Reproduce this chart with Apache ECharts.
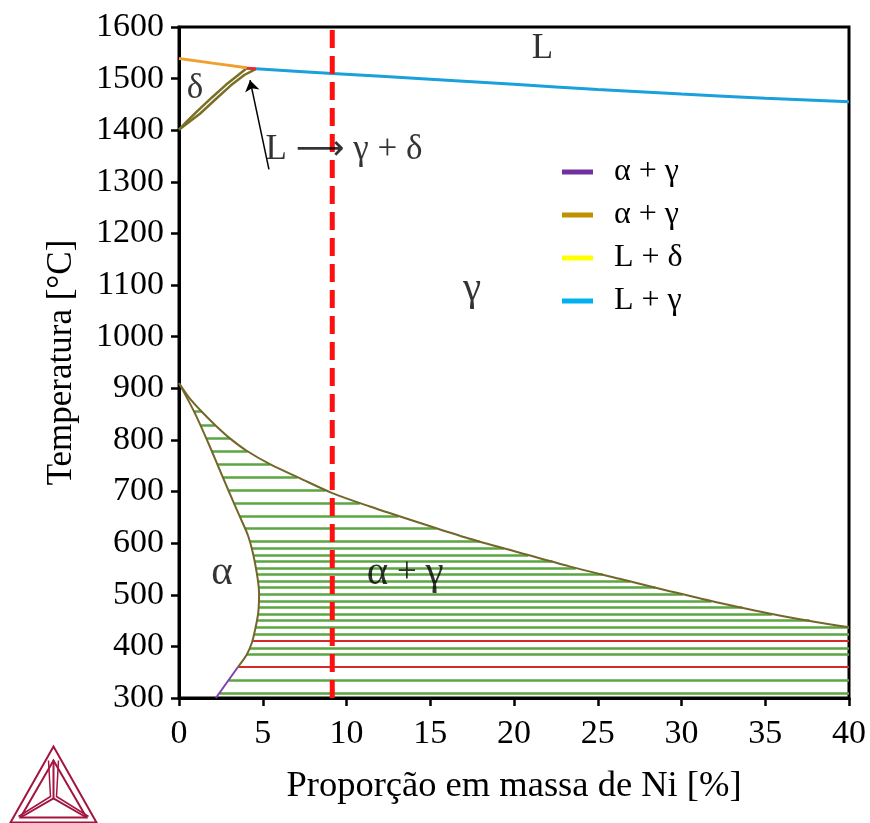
<!DOCTYPE html>
<html>
<head>
<meta charset="utf-8">
<script src="https://cdn.jsdelivr.net/npm/echarts@6/dist/echarts.min.js"></script>
<style>
  html, body { margin: 0; padding: 0; background: #fff; }
  #chart { width: 870px; height: 823px; }
</style>
</head>
<body>
<div id="chart"></div>
<script>
// Fe-Ni diagrama de fases (0-40 % Ni)
var serif = "'Liberation Serif', 'Times New Roman', serif";

// linhas de fase [Ni %, T °C]
var liquidusDelta = [[0, 1539], [2, 1530], [4.04, 1521]];
var peritectic = [[4.04, 1520], [4.6, 1519]];
var liquidusGamma = [[4.6, 1519], [9.15, 1510], [15, 1499], [20, 1489], [25, 1479], [30, 1470], [35, 1462], [40, 1455]];
var deltaBoundary = [[0, 1401], [0.5, 1418], [1.0, 1434], [1.95, 1463], [2.8, 1488], [3.5, 1506], [4.04, 1520]];
var deltaGammaBoundary = [[0, 1401], [0.6, 1416], [1.25, 1432], [2.25, 1462], [3.1, 1487], [3.9, 1507], [4.6, 1519]];
var alphaBoundary = [[0, 910], [0.96, 851], [1.75, 794], [2.35, 748], [2.94, 703], [3.54, 658], [4.14, 613],
  [4.54, 561], [4.78, 503], [4.73, 465], [4.54, 432], [4.34, 406], [4.04, 384], [3.54, 361]];
var alphaLow = [[3.54, 361], [2.2, 300]];
var gammaBoundary = [[0, 910], [0.6, 882], [1.35, 855], [2.15, 829], [3.04, 803], [4.04, 779], [5.43, 753],
  [7.2, 726], [9.15, 697], [11.4, 671], [14.4, 639], [17.3, 609], [20.4, 581], [23.3, 555], [26.3, 531],
  [29.3, 507], [32.3, 484], [36, 459], [40, 437]];

// tie lines (alpha + gamma)
var tieT = [855, 829, 803, 778, 753, 728, 703, 678, 653, 629, 603, 590, 577, 564, 552, 539, 526, 514, 501, 488,
  475, 463, 450, 437, 424, 397, 384, 335, 310];
var tieLeft = [0.89, 1.27, 1.63, 1.96, 2.28, 2.61, 2.94, 3.27, 3.61, 3.93, 4.22, 4.32, 4.42, 4.52, 4.58, 4.63,
  4.68, 4.73, 4.78, 4.76, 4.74, 4.72, 4.64, 4.57, 4.48, 4.22, 4.04, 2.97, 2.42];
var tieRight = [1.35, 2.15, 3.04, 4.09, 5.43, 7.07, 8.74, 10.79, 13.09, 15.37, 17.96, 19.4, 20.85, 22.3, 23.68,
  25.3, 26.93, 28.43, 30.08, 31.78, 33.63, 35.4, 37.64, 40, 40, 40, 40, 40, 40];
var redT = [410, 360];
var redLeft = [4.37, 3.54];
var redRight = [40, 40];

var niComposition = 9.15;
var arrowFrom = [5.37, 1324];
var arrowTo = [4.24, 1497];

var labelText = ['L', 'δ', 'L {arr|⟶} γ + δ', '{g|γ}', '{g|α}', '{g|α} + {g|γ}'];
var labelX = [21.7, 0.96, 9.85, 17.5, 2.57, 13.5];
var labelT = [1558, 1480, 1362, 1092, 542, 542];

var legendNames = ['α + γ', 'α + γ (2)', 'L + δ', 'L + γ'];
var legendColors = ['#7030a0', '#c09000', '#ffff00', '#00b0f0'];

function segs(ts, xl, xr) {
  var out = [];
  for (var i = 0; i < ts.length; i++) {
    out.push({ coords: [[xl[i], ts[i]], [xr[i], ts[i]]] });
  }
  return out;
}

function pathLine(data, color, width, smooth, z) {
  return {
    type: 'line', data: data, symbol: 'none', smooth: smooth, z: z || 3,
    lineStyle: { color: color, width: width }, silent: true
  };
}

var chart = echarts.init(document.getElementById('chart'), null, { renderer: 'canvas' });

var series = [
  {
    type: 'lines', coordinateSystem: 'cartesian2d', z: 2, silent: true,
    lineStyle: { color: '#5aa640', width: 2.5, opacity: 1 },
    data: segs(tieT, tieLeft, tieRight)
  },
  {
    type: 'lines', coordinateSystem: 'cartesian2d', z: 2, silent: true,
    lineStyle: { color: '#d42a2a', width: 2, opacity: 1 },
    data: segs(redT, redLeft, redRight)
  },
  pathLine(gammaBoundary, '#74662a', 2, 0.3),
  pathLine(alphaBoundary, '#74662a', 2, 0.3),
  pathLine(alphaLow, '#8040b0', 2, false),
  pathLine(deltaBoundary, '#7a7024', 2.5, false),
  pathLine(deltaGammaBoundary, '#7a7024', 2.5, false),
  pathLine(liquidusDelta, '#f0a030', 3, false),
  pathLine(peritectic, '#e03030', 3, false, 4),
  pathLine(liquidusGamma, '#1aa0dc', 3, 0.3),
  {
    type: 'line', symbol: 'none', z: 6, silent: true,
    data: [[niComposition, 300], [niComposition, 1600]],
    lineStyle: { color: '#ff1010', width: 5, type: [18, 8] }
  },
  {
    type: 'lines', coordinateSystem: 'cartesian2d', z: 7, silent: true,
    symbol: ['none', 'arrow'], symbolSize: 11,
    lineStyle: { color: '#000', width: 1.5, opacity: 1 },
    data: [{ coords: [arrowFrom, arrowTo] }]
  },
  {
    type: 'scatter', symbolSize: 0, z: 8, silent: true,
    data: labelText.map(function (t, i) { return { name: t, value: [labelX[i], labelT[i]] }; }),
    label: {
      show: true, position: 'inside', formatter: '{b}',
      fontFamily: serif, fontSize: 35, color: '#000',
      rich: {
        arr: { fontFamily: "'DejaVu Sans', sans-serif", fontSize: 34, color: '#000' },
        g: { fontFamily: serif, fontSize: 41, color: '#000' }
      }
    }
  }
];

legendNames.forEach(function (n, i) {
  series.push({
    type: 'line', name: n, data: [], symbol: 'none',
    itemStyle: { color: legendColors[i] },
    lineStyle: { color: legendColors[i] }
  });
});

var option = {
  animation: false,
  backgroundColor: '#fff',
  grid: {
    left: 179, right: 21, top: 27, bottom: 125,
    show: true, borderColor: '#000', borderWidth: 3
  },
  legend: {
    data: legendNames,
    orient: 'vertical',
    left: 557, top: 151,
    icon: 'rect', itemWidth: 31, itemHeight: 5, itemGap: 11,
    formatter: function (n) { return n.replace(' (2)', ''); },
    textStyle: { fontFamily: serif, fontSize: 32, color: '#000', lineHeight: 32, padding: [0, 0, 0, 16] }
  },
  xAxis: {
    type: 'value', min: 0, max: 40, interval: 5,
    name: 'Proporção em massa de Ni [%]',
    nameLocation: 'middle', nameGap: 70,
    nameTextStyle: { fontFamily: serif, fontSize: 36.5, color: '#000' },
    axisLine: { lineStyle: { color: '#000', width: 3 } },
    axisTick: { length: 8, lineStyle: { color: '#000', width: 2.5 } },
    axisLabel: { fontFamily: serif, fontSize: 34, color: '#000', margin: 19 },
    splitLine: { show: false }
  },
  yAxis: {
    type: 'value', min: 300, max: 1600, interval: 100,
    name: 'Temperatura [°C]',
    nameLocation: 'middle', nameGap: 100,
    nameTextStyle: { fontFamily: serif, fontSize: 35, color: '#000' },
    axisLine: { show: true, lineStyle: { color: '#000', width: 3 } },
    axisTick: { show: true, length: 8, lineStyle: { color: '#000', width: 2.5 } },
    axisLabel: {
      fontFamily: serif, fontSize: 34, color: '#000', margin: 15,
      formatter: function (v) { return String(v); }
    },
    splitLine: { show: false }
  },
  graphic: [{
    // logo Thermo-Calc
    type: 'group', left: 8, top: 744, silent: true,
    children: [
      { type: 'polygon', shape: { points: [[43, 0], [0, 76], [86, 76]] }, style: { fill: 'none', stroke: '#a3153f', lineWidth: 2 } },
      { type: 'polygon', shape: { points: [[43, 14], [10, 71], [76, 71]] }, style: { fill: 'none', stroke: '#a3153f', lineWidth: 2 } },
      { type: 'polyline', shape: { points: [[43, 14], [43, 52]] }, style: { stroke: '#a3153f', lineWidth: 2 } },
      { type: 'polyline', shape: { points: [[10, 71], [43, 52], [76, 71]] }, style: { fill: 'none', stroke: '#a3153f', lineWidth: 2 } },
      { type: 'polyline', shape: { points: [[38, 14], [40, 50], [8, 70]] }, style: { fill: 'none', stroke: '#a3153f', lineWidth: 1.5 } },
      { type: 'polyline', shape: { points: [[48, 14], [46, 50], [78, 70]] }, style: { fill: 'none', stroke: '#a3153f', lineWidth: 1.5 } }
    ]
  }],
  series: series
};

chart.setOption(option);
</script>
</body>
</html>
